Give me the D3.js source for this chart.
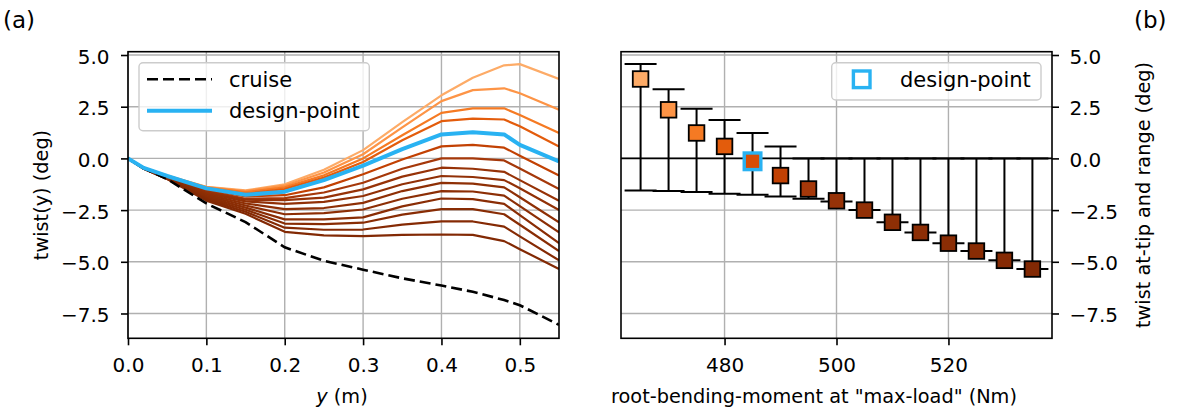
<!DOCTYPE html>
<html><head><meta charset="utf-8">
<script src="https://cdn.jsdelivr.net/npm/d3@7"></script>
<style>
body{margin:0;background:#fff;}
svg{display:block;}
text{font-family:"DejaVu Sans",sans-serif;}
</style>
</head><body>
<svg id="chart" width="1181" height="416"></svg>
<script>
// ---------- data ----------
const spanY = [0, 0.02, 0.05, 0.1, 0.15, 0.2, 0.25, 0.3, 0.35, 0.4, 0.44, 0.48, 0.5, 0.55];
const twistCurves = [
  [0, -0.45, -0.83, -1.37, -1.55, -1.25, -0.55,  0.40,  1.75,  3.05,  3.90,  4.50,  4.56,  3.84],
  [0, -0.45, -0.84, -1.39, -1.58, -1.32, -0.68,  0.20,  1.50,  2.77,  3.30,  3.39,  3.15,  2.35],
  [0, -0.45, -0.84, -1.41, -1.63, -1.40, -0.82,  0.00,  1.12,  2.20,  2.42,  2.42,  2.10,  1.23],
  [0, -0.45, -0.85, -1.43, -1.71, -1.48, -0.93, -0.17,  0.88,  1.80,  1.92,  1.88,  1.55,  0.58],
  [0, -0.46, -0.85, -1.45, -1.76, -1.61, -1.05, -0.35,  0.45,  1.16,  1.27,  1.16,  0.65, -0.14],
  [0, -0.46, -0.87, -1.50, -1.84, -1.78, -1.40, -0.77, -0.05,  0.58,  0.65,  0.52,  0.13, -0.83],
  [0, -0.47, -0.89, -1.56, -1.95, -1.92, -1.65, -1.18, -0.50,  0.00,  0.00, -0.10, -0.49, -1.48],
  [0, -0.47, -0.90, -1.62, -2.00, -2.02, -1.90, -1.50, -0.88, -0.45, -0.50, -0.65, -1.05, -2.05],
  [0, -0.48, -0.92, -1.68, -2.08, -2.20, -2.10, -1.82, -1.25, -0.85, -0.90, -1.05, -1.44, -2.50],
  [0, -0.48, -0.93, -1.74, -2.18, -2.45, -2.40, -2.15, -1.58, -1.18, -1.22, -1.40, -1.88, -3.09],
  [0, -0.49, -0.95, -1.80, -2.28, -2.70, -2.65, -2.47, -1.95, -1.58, -1.60, -1.80, -2.31, -3.58],
  [0, -0.49, -0.96, -1.86, -2.38, -2.95, -2.95, -2.85, -2.32, -1.94, -1.97, -2.20, -2.74, -4.10],
  [0, -0.50, -0.98, -1.92, -2.48, -3.15, -3.18, -3.11, -2.72, -2.45, -2.45, -2.70, -3.21, -4.48],
  [0, -0.50, -0.99, -1.98, -2.58, -3.35, -3.45, -3.44, -3.20, -3.05, -3.05, -3.30, -3.77, -4.93],
  [0, -0.50, -1.00, -2.04, -2.68, -3.55, -3.72, -3.76, -3.70, -3.68, -3.70, -4.00, -4.39, -5.35]
];
const cruiseTwist = [0, -0.47, -1.00, -2.18, -3.08, -4.30, -4.95, -5.38, -5.80, -6.15, -6.45, -6.85, -7.10, -8.05];
const designIndex = 4;

const rootMoment = [465, 470, 475, 480, 485, 490, 495, 500, 505, 510, 515, 520, 525, 530, 535];
const tipTwist   = [3.84, 2.35, 1.23, 0.58, -0.14, -0.83, -1.48, -2.05, -2.50, -3.09, -3.58, -4.10, -4.48, -4.93, -5.35];
const twistMax   = [4.56, 3.34, 2.40, 1.86, 1.23, 0.58, 0, 0, 0, 0, 0, 0, 0, 0, 0];
const twistMin   = [-1.55, -1.58, -1.63, -1.71, -1.76, -1.84, -1.95, -2.08, -2.50, -3.09, -3.58, -4.10, -4.48, -4.93, -5.35];

const spanTicks   = [0, 0.1, 0.2, 0.3, 0.4, 0.5];
const twistTicks  = [5, 2.5, 0, -2.5, -5, -7.5];
const momentTicks = [480, 500, 520];

const curveColors = ["#fdab67", "#fd9446", "#f57a23", "#e35c0c", "#d84d06", "#c24103",
                     "#a5380a", "#963207", "#913006", "#8e2f05", "#8c2e05", "#8a2d05",
                     "#882c04", "#852a04", "#822904"];
const designColor = "#29b2f2";

// ---------- layout ----------
const svg = d3.select("#chart");
const FS = 20, FL = 19.3, FLEG = 21;
const T = 51.7, B = 338.3;
const L1 = 128, R1 = 559, L2 = 621, R2 = 1052;

const y = d3.scaleLinear().domain([-8.70, 5.16]).range([B, T]);
const xL = d3.scaleLinear().domain([0, 0.55]).range([L1, R1]);
const xR = d3.scaleLinear().domain([461.5, 538.5]).range([L2, R2]);
const fmt1 = d3.format(".1f");

svg.append("rect").attr("width", 1181).attr("height", 416).attr("fill", "#fff");

const defs = svg.append("defs");
defs.append("clipPath").attr("id", "clipL").append("rect")
  .attr("x", L1).attr("y", T).attr("width", R1 - L1).attr("height", B - T);
defs.append("clipPath").attr("id", "clipR").append("rect")
  .attr("x", L2).attr("y", T).attr("width", R2 - L2).attr("height", B - T);

function grid(xs, xTicks, L, R) {
  const g = svg.append("g").attr("stroke", "#b0b0b0").attr("stroke-width", 1.4);
  g.selectAll("line.v").data(xTicks).join("line").attr("class", "v")
    .attr("x1", d => xs(d)).attr("x2", d => xs(d)).attr("y1", T).attr("y2", B);
  g.selectAll("line.h").data(twistTicks).join("line").attr("class", "h")
    .attr("x1", L).attr("x2", R).attr("y1", d => y(d)).attr("y2", d => y(d));
}
grid(xL, spanTicks, L1, R1);
grid(xR, momentTicks, L2, R2);

// ---------- left panel ----------
const line = d3.line().x((d, i) => xL(spanY[i])).y(d => y(d));
const gl = svg.append("g").attr("clip-path", "url(#clipL)").attr("fill", "none");
twistCurves.forEach((c, i) => {
  if (i === designIndex) return;
  gl.append("path").attr("d", line(c)).attr("stroke", curveColors[i])
    .attr("stroke-width", 2.2).attr("stroke-linejoin", "round");
});
gl.append("path").attr("d", line(cruiseTwist)).attr("stroke", "#000")
  .attr("stroke-width", 2.6).attr("stroke-dasharray", "11,5");
gl.append("path").attr("d", line(twistCurves[designIndex])).attr("stroke", designColor)
  .attr("stroke-width", 4).attr("stroke-linejoin", "round");

// ---------- right panel ----------
const gr = svg.append("g").attr("clip-path", "url(#clipR)");
gr.append("line").attr("x1", L2).attr("x2", R2).attr("y1", y(0)).attr("y2", y(0))
  .attr("stroke", "#000").attr("stroke-width", 1.6);
const cap = 16;
const eb = gr.append("g").attr("stroke", "#000").attr("stroke-width", 2);
rootMoment.forEach((m, i) => {
  const cx = xR(m);
  eb.append("line").attr("x1", cx).attr("x2", cx).attr("y1", y(twistMin[i])).attr("y2", y(twistMax[i]));
  eb.append("line").attr("x1", cx - cap).attr("x2", cx + cap).attr("y1", y(twistMin[i])).attr("y2", y(twistMin[i]));
  eb.append("line").attr("x1", cx - cap).attr("x2", cx + cap).attr("y1", y(twistMax[i])).attr("y2", y(twistMax[i]));
});
const ms = 15.6;
rootMoment.forEach((m, i) => {
  const cx = xR(m), cy = y(tipTwist[i]);
  if (i === designIndex) {
    const s = 16.6;
    gr.append("rect").attr("x", cx - s / 2).attr("y", cy - s / 2).attr("width", s).attr("height", s)
      .attr("fill", curveColors[i]).attr("stroke", designColor).attr("stroke-width", 3.4);
  } else {
    gr.append("rect").attr("x", cx - ms / 2).attr("y", cy - ms / 2).attr("width", ms).attr("height", ms)
      .attr("fill", curveColors[i]).attr("stroke", "#000").attr("stroke-width", 1.8);
  }
});

// ---------- axes ----------
function styleAxis(g) {
  g.select(".domain").remove();
  g.attr("font-size", FS).attr("font-family", "DejaVu Sans").attr("color", "#000");
  g.selectAll(".tick line").attr("stroke-width", 1.6);
  g.selectAll(".tick text").attr("fill", "#000");
}
const axL = svg.append("g").attr("transform", `translate(0,${B})`)
  .call(d3.axisBottom(xL).tickValues(spanTicks).tickFormat(fmt1).tickSize(7).tickSizeOuter(0));
styleAxis(axL); axL.selectAll(".tick text").attr("dy", null).attr("y", 34);

const axR = svg.append("g").attr("transform", `translate(0,${B})`)
  .call(d3.axisBottom(xR).tickValues(momentTicks).tickFormat(d3.format("d")).tickSize(7).tickSizeOuter(0));
styleAxis(axR); axR.selectAll(".tick text").attr("dy", null).attr("y", 34);

const ayL = svg.append("g").attr("transform", `translate(${L1},0)`)
  .call(d3.axisLeft(y).tickValues(twistTicks).tickFormat(fmt1).tickSize(7).tickSizeOuter(0));
styleAxis(ayL); ayL.selectAll(".tick text").attr("x", -18.5).attr("dy", "0.41em");

const ayR = svg.append("g").attr("transform", `translate(${R2},0)`)
  .call(d3.axisRight(y).tickValues(twistTicks).tickFormat(fmt1).tickSize(7).tickSizeOuter(0));
styleAxis(ayR); ayR.selectAll(".tick text").attr("x", 17.5).attr("dy", "0.41em");

// spines
[[L1, R1], [L2, R2]].forEach(([a, b]) => {
  svg.append("rect").attr("x", a).attr("y", T).attr("width", b - a).attr("height", B - T)
    .attr("fill", "none").attr("stroke", "#000").attr("stroke-width", 1.6);
});

// labels
const lbl = (x, yy, txt, rot) => {
  const t = svg.append("text").attr("font-size", FL).attr("fill", "#000").attr("text-anchor", "middle");
  if (rot) t.attr("transform", `translate(${x},${yy}) rotate(-90)`);
  else t.attr("x", x).attr("y", yy);
  return t.text(txt);
};
const xl = svg.append("text").attr("font-size", FL).attr("text-anchor", "middle")
  .attr("x", 342).attr("y", 403);
xl.append("tspan").attr("font-style", "italic").text("y");
xl.append("tspan").text(" (m)");
lbl(814, 403, 'root-bending-moment at "max-load" (Nm)');
lbl(47.5, (T + B) / 2, "twist(y) (deg)", true);
lbl(1149.5, (T + B) / 2, "twist at-tip and range (deg)", true);
svg.append("text").attr("font-size", 23).attr("x", 3).attr("y", 28).text("(a)");
svg.append("text").attr("font-size", 23).attr("x", 1134).attr("y", 28).text("(b)");

// ---------- legends ----------
const lg1 = svg.append("g");
lg1.append("rect").attr("x", 139).attr("y", 62.7).attr("width", 230.3).attr("height", 68)
  .attr("rx", 4).attr("fill", "#fff").attr("fill-opacity", 0.8).attr("stroke", "#cccccc").attr("stroke-width", 1.4);
lg1.append("line").attr("x1", 147).attr("x2", 212).attr("y1", 79.3).attr("y2", 79.3)
  .attr("stroke", "#000").attr("stroke-width", 2.6).attr("stroke-dasharray", "11,5");
lg1.append("line").attr("x1", 147).attr("x2", 212).attr("y1", 110.7).attr("y2", 110.7)
  .attr("stroke", designColor).attr("stroke-width", 4);
lg1.append("text").attr("font-size", FLEG).attr("x", 229).attr("y", 86.8).text("cruise");
lg1.append("text").attr("font-size", FLEG).attr("x", 229).attr("y", 118).text("design-point");

const lg2 = svg.append("g");
lg2.append("rect").attr("x", 831.7).attr("y", 62.7).attr("width", 209.3).attr("height", 37.3)
  .attr("rx", 4).attr("fill", "#fff").attr("fill-opacity", 0.8).attr("stroke", "#cccccc").attr("stroke-width", 1.4);
lg2.append("rect").attr("x", 861.7 - 8.3).attr("y", 79.3 - 8.3).attr("width", 16.6).attr("height", 16.6)
  .attr("fill", "#fff").attr("stroke", designColor).attr("stroke-width", 3.4);
lg2.append("text").attr("font-size", FLEG).attr("x", 900).attr("y", 86.8).text("design-point");
</script>
</body></html>
